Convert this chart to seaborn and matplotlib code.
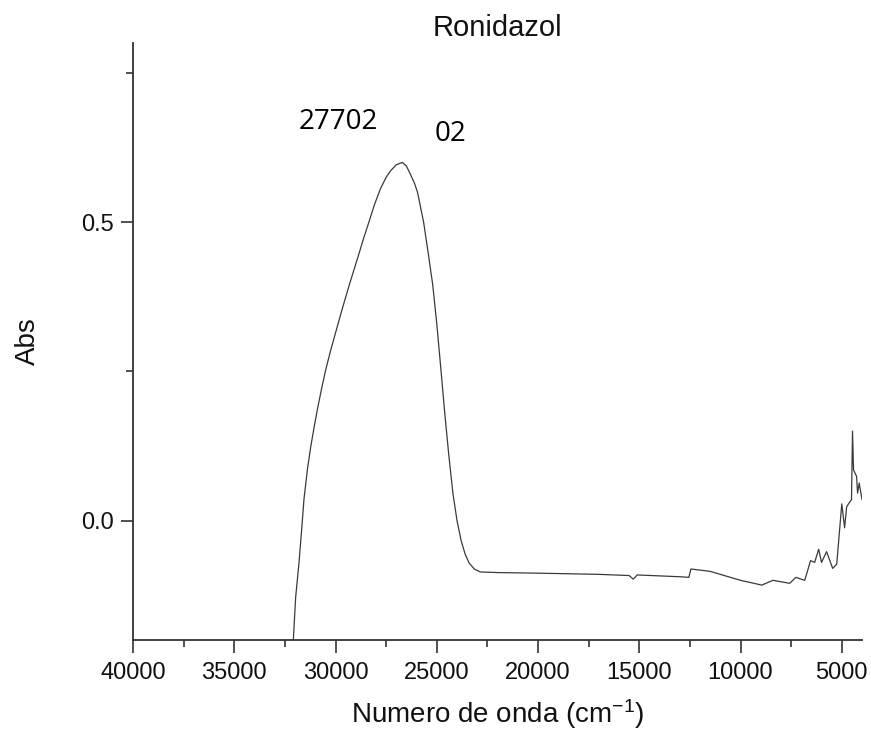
import numpy as np
import pandas as pd
import matplotlib
matplotlib.use('Agg')
import matplotlib.pyplot as plt
import seaborn as sns
from matplotlib.ticker import MultipleLocator

# Spectrum (wavenumber cm-1, absorbance)
wavenumber = [32100, 31967, 31804, 31685, 31557, 31390, 31227, 31064, 30897, 30700,
              30488, 30241, 29995, 29665, 29300, 28860, 28620, 28370, 28100, 27780,
              27500, 27280, 27000, 26700, 26500, 26300, 26100, 25950, 25650, 25400,
              25200, 25000, 24800, 24600, 24400, 24200, 24000, 23800, 23600, 23400,
              23150, 22850, 22000, 20000, 17000, 15500, 15300, 15100, 13000, 12550,
              12450, 11500, 10800, 10000, 8950, 8400, 7570, 7270, 6830, 6540,
              6340, 6140, 6000, 5750, 5450, 5250, 5000, 4860, 4760, 4610,
              4520, 4470, 4420, 4270, 4220, 4140, 4000]
absorbance = [-0.21, -0.128, -0.071, -0.021, 0.036, 0.085, 0.123, 0.155, 0.186, 0.219,
              0.252, 0.285, 0.315, 0.355, 0.397, 0.445, 0.472, 0.498, 0.527, 0.556,
              0.575, 0.586, 0.596, 0.600, 0.594, 0.580, 0.565, 0.550, 0.500, 0.443,
              0.395, 0.330, 0.255, 0.178, 0.108, 0.045, 0.000, -0.033, -0.056, -0.071,
              -0.081, -0.086, -0.087, -0.088, -0.090, -0.092, -0.098, -0.091, -0.094, -0.095,
              -0.081, -0.085, -0.092, -0.100, -0.108, -0.100, -0.105, -0.095, -0.100, -0.067,
              -0.070, -0.048, -0.070, -0.052, -0.080, -0.073, 0.028, -0.012, 0.023, 0.031,
              0.035, 0.150, 0.085, 0.074, 0.046, 0.063, 0.035]

title = 'Ronidazol'
notes = ['27702', '02']
note_x = [29850, 24330]
note_y = [0.668, 0.648]

df = pd.DataFrame({'wn': wavenumber, 'abs': absorbance})

sns.set_style('ticks')
plt.rcParams['font.family'] = ['Liberation Sans', 'DejaVu Sans']
plt.rcParams['mathtext.default'] = 'regular'

fig = plt.figure(figsize=(8.71, 7.4), dpi=100)
ax = fig.add_axes([0.1527, 0.1351, 0.9897 - 0.1527, 0.9419 - 0.1351])

sns.lineplot(data=df, x='wn', y='abs', ax=ax, color='#3a3a3a', linewidth=0.9,
             estimator=None, sort=False)

ax.set_xlim(40000, 4000)
ax.set_ylim(-0.2, 0.8)
ax.xaxis.set_major_locator(MultipleLocator(5000))
ax.xaxis.set_minor_locator(MultipleLocator(2500))
ax.yaxis.set_major_locator(MultipleLocator(0.5))
ax.yaxis.set_minor_locator(MultipleLocator(0.25))
ax.yaxis.set_major_formatter(plt.FuncFormatter(lambda v, p: f'{v:.1f}'))

sns.despine(ax=ax)
for s in ['left', 'bottom']:
    ax.spines[s].set_linewidth(1.3)
    ax.spines[s].set_color('#333333')

ax.tick_params(which='major', direction='out', length=9, width=1.2, colors='#333333',
               labelsize=17, labelcolor='#111111')
ax.tick_params(which='minor', direction='out', length=5, width=1.2, colors='#333333')
ax.tick_params(axis='x', which='major', pad=7)
ax.tick_params(axis='y', which='major', pad=5)

ax.set_xlabel('Numero de onda (cm$^{-1}$)', fontsize=20, labelpad=9, color='#111111')
ax.set_ylabel('Abs', fontsize=20, labelpad=29, color='#111111')
ax.set_title(title, fontsize=21, pad=5, color='#111111')

for t, x, y in zip(notes, note_x, note_y):
    ax.text(x, y, t, ha='center', va='center', fontsize=20, family='Open Sans',
            color='black')

fig.savefig('out.png', dpi=100)
